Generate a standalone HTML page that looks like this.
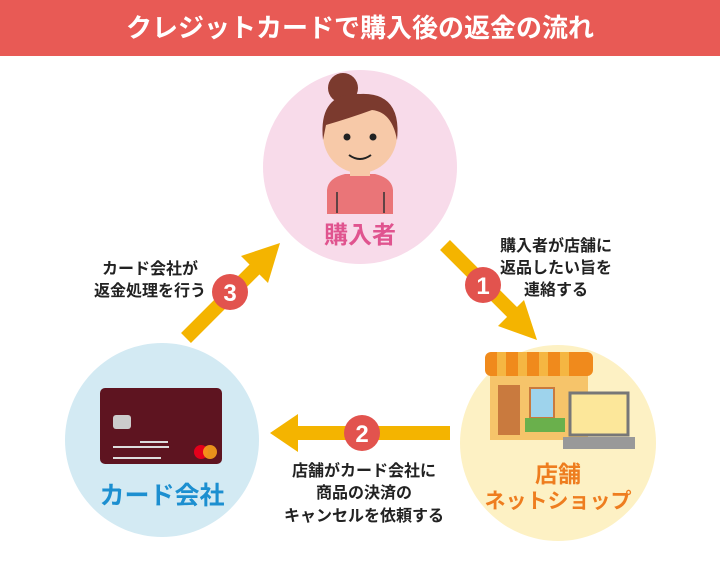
<!DOCTYPE html>
<html><head><meta charset="utf-8"><style>
body{margin:0;width:720px;height:560px;overflow:hidden;background:#fff;font-family:"Liberation Sans","Noto Sans CJK JP",sans-serif}
</style></head><body>
<svg width="720" height="560" viewBox="0 0 720 560" xmlns="http://www.w3.org/2000/svg" font-family="Liberation Sans, Noto Sans CJK JP, sans-serif" font-weight="bold">
<rect x="0" y="0" width="720" height="56" fill="#e85a55"/>
<text x="360" y="37" text-anchor="middle" font-size="26" fill="#fff">クレジットカードで購入後の返金の流れ</text>
<circle cx="360" cy="167" r="97" fill="#f8dbea"/>
<circle cx="558" cy="443" r="98" fill="#fdf1c4"/>
<circle cx="162" cy="440" r="97" fill="#d3eaf3"/>
<!-- person -->
<circle cx="343" cy="88" r="15" fill="#7b3a2e"/>
<path d="M327,214 L327,190 Q328,178 345,174 L375,174 Q392,178 393,190 L393,214 Z" fill="#ea7578"/>
<line x1="337" y1="192" x2="337" y2="213" stroke="#333" stroke-width="1.5"/>
<line x1="384" y1="192" x2="384" y2="213" stroke="#333" stroke-width="1.5"/>
<rect x="350" y="160" width="20" height="16" fill="#f7c9a8"/>
<ellipse cx="360" cy="135" rx="37" ry="38" fill="#f7c9a8"/>
<path d="M323,140 Q318,92 360,94 Q402,92 397,140 Q392,112 372,110 Q350,118 326,125 Z" fill="#7b3a2e"/>
<circle cx="347" cy="137" r="3.5" fill="#222"/><circle cx="373" cy="137" r="3.5" fill="#222"/>
<path d="M349,155 Q360,163 371,155" stroke="#222" stroke-width="2" fill="none"/>
<text x="360" y="243" text-anchor="middle" font-size="24" fill="#e0548f">購入者</text>
<!-- shop -->
<rect x="490" y="370" width="98" height="70" fill="#f6c46a"/>
<rect x="485" y="352" width="108" height="24" rx="6" fill="#f08a1c"/>
<g fill="#f5b642"><rect x="497" y="352" width="9" height="24"/><rect x="518" y="352" width="9" height="24"/><rect x="539" y="352" width="9" height="24"/><rect x="560" y="352" width="9" height="24"/></g>
<rect x="498" y="385" width="22" height="50" fill="#c97a3e"/>
<rect x="530" y="388" width="24" height="30" fill="#9ed3ec" stroke="#c97a3e" stroke-width="2"/>
<rect x="525" y="418" width="40" height="14" fill="#6ab04c"/>
<rect x="570" y="393" width="58" height="42" fill="#fce79a" stroke="#777" stroke-width="3"/>
<rect x="563" y="437" width="72" height="12" fill="#999"/>
<text x="558" y="482" text-anchor="middle" font-size="23" fill="#ee7d1f">店舗</text>
<text x="558" y="508" text-anchor="middle" font-size="21" fill="#ee7d1f">ネットショップ</text>
<!-- card -->
<rect x="100" y="388" width="122" height="76" rx="5" fill="#5e1420"/>
<rect x="113" y="415" width="18" height="14" rx="3" fill="#ccc"/>
<rect x="113" y="446" width="56" height="2" fill="#ddd"/><rect x="140" y="441" width="28" height="2" fill="#ddd"/><rect x="113" y="457" width="48" height="2" fill="#ddd"/>
<circle cx="201" cy="452" r="7" fill="#e3001b"/><circle cx="210" cy="452" r="7" fill="#f79e1b" opacity=".9"/>
<text x="162" y="504" text-anchor="middle" font-size="25" fill="#1c8fd0">カード会社</text>
<!-- arrows -->
<g fill="#f4b400" stroke="#f4b400">
<line x1="445" y1="245" x2="515" y2="315" stroke-width="14"/>
<polygon points="537,340 498,326 524,300" stroke="none"/>
<line x1="450" y1="433" x2="295" y2="433" stroke-width="14"/>
<polygon points="270,433 298,414 298,452" stroke="none"/>
<line x1="186" y1="338" x2="258" y2="266" stroke-width="14"/>
<polygon points="280,243 268,283 241,256" stroke="none"/>
</g>
<g font-size="24" fill="#fff" text-anchor="middle">
<circle cx="483" cy="285" r="18" fill="#e2534e"/><text x="483" y="294">1</text>
<circle cx="362" cy="433" r="18" fill="#e2534e"/><text x="362" y="442">2</text>
<circle cx="230" cy="292" r="18" fill="#e2534e"/><text x="230" y="301">3</text>
</g>
<g font-size="16" fill="#222" text-anchor="middle">
<text x="556" y="251">購入者が店舗に</text><text x="556" y="273">返品したい旨を</text><text x="556" y="295">連絡する</text>
<text x="150" y="274">カード会社が</text><text x="150" y="296">返金処理を行う</text>
<text x="364" y="476">店舗がカード会社に</text><text x="364" y="498">商品の決済の</text><text x="364" y="521">キャンセルを依頼する</text>
</g>
</svg>
</body></html>
